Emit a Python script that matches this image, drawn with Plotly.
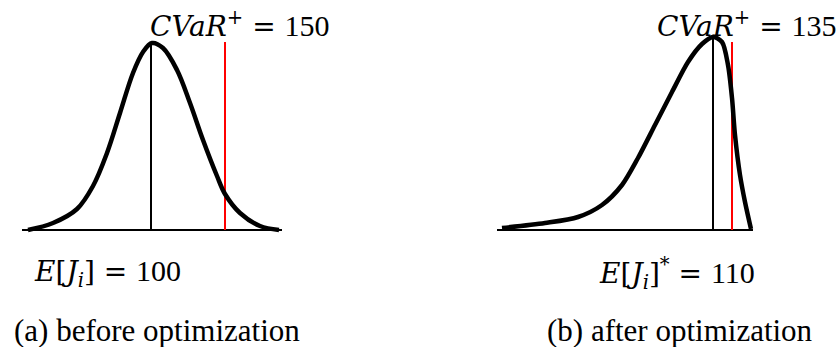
import plotly.graph_objects as go

# ---- data (x in panel units, height above baseline) ----
before_x = [28, 53, 77, 93, 107, 120, 133, 143, 152, 163, 177, 190, 203, 217, 225, 240, 260, 279]
before_h = [0, 7, 21, 44, 77, 117, 157, 178, 187, 182, 160, 127, 90, 54, 36, 17, 4, 0]

after_x = [502, 545, 578, 602, 622, 638, 655, 672, 688, 702, 713, 722, 728, 732, 735, 740, 745, 751]
after_h = [2, 7, 13, 25, 45, 72, 105, 138, 168, 186, 193, 188, 165, 132, 95, 55, 28, 1]

base_left = [22, 282]
base_right = [497, 753]
mean_x = [151, 713]
mean_top = [187, 195]
cvar_x = [225, 732]
cvar_top = [188, 188]

MATH = "font-family:'DejaVu Serif';font-size:28px"
cvar_labels = [f"<span style=\"{MATH}\"><i>CVaR</i><sup>+</sup> = </span>150",
               f"<span style=\"{MATH}\"><i>CVaR</i><sup>+</sup> = </span>135"]
mean_labels = [f"<span style=\"{MATH}\"><i>E</i>[<i>J</i><sub><i>i</i></sub>] = </span>100",
               f"<span style=\"{MATH}\"><i>E</i>[<i>J</i><sub><i>i</i></sub>]<sup>*</sup> = </span>110"]
captions = ["(a) before optimization", "(b) after optimization"]

fig = go.Figure()

# baselines
for bx in (base_left, base_right):
    fig.add_trace(go.Scatter(x=bx, y=[0, 0], mode="lines",
                             line=dict(color="black", width=2), hoverinfo="skip"))

# mean lines
for mx, mt in zip(mean_x, mean_top):
    fig.add_trace(go.Scatter(x=[mx, mx], y=[0, mt], mode="lines",
                             line=dict(color="black", width=2), hoverinfo="skip"))

# cvar lines
for cx, ct in zip(cvar_x, cvar_top):
    fig.add_trace(go.Scatter(x=[cx, cx], y=[0, ct], mode="lines",
                             line=dict(color="red", width=2), hoverinfo="skip"))

# curves
fig.add_trace(go.Scatter(x=before_x, y=before_h, mode="lines",
                         line=dict(color="black", width=4.5, shape="spline", smoothing=1.0),
                         hoverinfo="skip"))
fig.add_trace(go.Scatter(x=after_x, y=after_h, mode="lines",
                         line=dict(color="black", width=4.5, shape="spline", smoothing=0.8),
                         hoverinfo="skip"))

font_math = dict(family="Liberation Serif", size=30, color="black")
font_cap = dict(family="Liberation Serif", size=31, color="black")

# label positions
cvar_pos = [(148, 206), (655, 206)]
mean_pos = [(32, -43), (597, -43)]
cap_pos = [(12, -100), (545, -100)]

for (x, y), t in zip(cvar_pos, cvar_labels):
    fig.add_annotation(x=x, y=y, xref="x", yref="y", text=t, showarrow=False,
                       xanchor="left", yanchor="middle", font=font_math)
for (x, y), t in zip(mean_pos, mean_labels):
    fig.add_annotation(x=x, y=y, xref="x", yref="y", text=t, showarrow=False,
                       xanchor="left", yanchor="middle", font=font_math)
for (x, y), t in zip(cap_pos, captions):
    fig.add_annotation(x=x, y=y, xref="x", yref="y", text=t, showarrow=False,
                       xanchor="left", yanchor="middle", font=font_cap)

fig.update_layout(
    width=838, height=347,
    margin=dict(l=0, r=0, t=0, b=0),
    paper_bgcolor="white", plot_bgcolor="white",
    showlegend=False,
    xaxis=dict(range=[0, 838], visible=False, fixedrange=True),
    yaxis=dict(range=[-117, 230], visible=False, fixedrange=True),
)

fig.write_html("out.html", config={"displayModeBar": False},
               post_script="document.body.style.margin='0';document.body.style.overflow='hidden';")
